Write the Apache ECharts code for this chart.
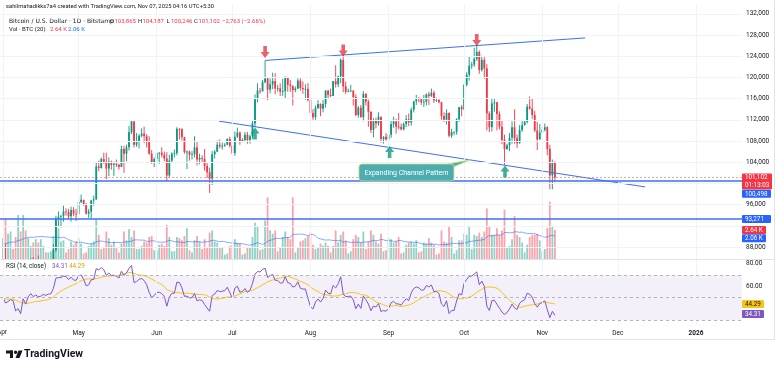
<!DOCTYPE html>
<html><head><meta charset="utf-8">
<script src="https://cdn.jsdelivr.net/npm/echarts@6.0.0/dist/echarts.min.js"></script>
<style>html,body{margin:0;padding:0;background:#fff;overflow:hidden}#c{width:780px;height:370px}</style>
</head><body><div id="c"></div>
<script>
// ---------- DATA (daily BTC/USD, Bitstamp, 1 Apr 2025 .. 6 Nov 2025) ----------
const marchCloses = [86000,94200,86100,87200,90600,89900,86700,86100,80700,78500,82900,83700,81000,83900,84300,82600,84000,82700,86800,84200,84000,83800,86100,87500,87400,86900,87200,84400,82600,82400,82500];
const marchVolumes = [1.8,1.5,0.8,0.9,1.3,1.4,2.2,1.6,1.2,0.6,0.9,1.5,1.3,1.1,1.2,1.7,0.9,0.8,1.6];

const opens = [
82500,85170,82500,83100,83850,83500,78400,79200,76300,82600,79600,83400,85300,83700,84600,83700,84000,84900,84450,85050,85150,87500,93400,93700,93900,94700,94600,93800,95000,94300,
94200,96500,96900,95900,94300,94700,96800,97000,103200,102900,104600,104100,102800,104100,103500,103700,103500,103100,106500,105600,106800,109700,111700,107300,107800,109000,109400,108900,107800,105600,103900,
104600,105700,105800,105400,104700,101500,104300,105600,105700,110300,110200,108700,105900,106000,105400,105500,106800,104500,104800,104600,103300,102100,100900,105500,106000,107300,107000,107100,107300,108400,
107100,105700,108800,109600,108000,108200,109200,108200,108900,111300,115900,117500,117400,119100,119800,117700,118700,119300,117900,117950,117300,117400,119900,118600,118400,117600,117900,119400,118000,117800,117850,
115700,113300,112500,114200,115000,114100,115000,117500,116700,116500,119300,118700,120200,123300,118300,117300,117400,117500,116300,112900,114300,112500,116900,115400,113500,110100,111800,111300,112600,108400,108800,
108300,109200,111200,111700,110700,110650,110200,111200,112100,111500,113900,115500,116100,115900,115300,115400,116800,116500,117100,115700,115750,115300,112700,112000,113300,109000,109700,109750,112100,114400,
114000,118600,120500,122200,122400,123500,124800,121400,123300,121700,113200,110600,115100,115300,113100,110700,108200,106500,107200,108600,110600,108500,107600,110100,111000,111600,114500,114100,112900,110000,108300,
109600,110100,110600,106500,101500,103865];
const highs = [
85500,88500,83900,84700,84200,83700,81200,80800,83500,82700,84200,85900,86100,85800,86400,85500,85500,85100,85600,85300,88500,93900,94700,94000,95800,95300,95200,95600,95500,95200,
97400,97900,96900,96300,95200,96900,97700,104000,104300,104900,105800,105800,104900,104300,104100,104500,103700,107100,107100,107300,110800,111900,111800,109500,109300,110400,110700,109300,108900,106300,104900,
105900,105900,106800,106000,105900,105400,105900,106400,110600,110400,110400,108800,106200,106200,106100,108900,107800,105600,105300,106500,104000,103000,106100,106300,108100,108300,107700,107600,108500,108800,
107600,109800,110500,109800,108500,109700,109700,109200,111900,116800,118900,118000,119500,123200,119900,119800,120900,120800,118600,118900,119700,120200,120000,119500,118500,118300,119800,119800,119200,118700,118900,
116100,114000,114700,115700,115100,115700,117600,117700,117900,119300,122300,120300,123600,124300,119200,117900,118600,117600,116800,114600,114800,117400,117000,115800,113600,112300,112400,113400,112600,108900,109500,
109900,111800,112600,112200,113300,111300,111500,112900,113200,114300,115500,116700,116300,116100,116700,117000,117300,117900,117500,116200,115900,115400,113400,114000,113400,110300,109800,112300,114400,114800,
118800,121000,123900,122900,125600,126200,125100,124100,123800,122500,113600,115900,115900,115400,113600,111900,109200,107500,109500,111700,114000,109200,111000,112000,111900,115000,116400,116100,113700,111600,111200,
110600,111300,110800,107300,104500,104187];
const lows = [
82400,82300,81200,81600,82400,77200,74500,76200,74600,78400,78900,82800,83000,83700,83600,83100,83900,84300,84300,83900,85100,87100,91900,91700,92800,93900,93300,92800,93800,92900,
94200,96300,95800,94100,93500,93400,95800,96900,102300,102800,103700,100800,101400,102600,101400,103100,102600,103100,102000,104200,106200,109300,106800,106900,106600,108700,107600,106800,105400,103700,103100,
103800,103700,104900,104200,100400,101100,103900,104900,105300,108300,108100,105600,102700,104300,104500,104900,103400,103600,103900,102400,101000,98200,99700,104700,105900,106600,106400,106900,107200,106800,
105300,105200,108600,107300,107800,107800,107500,107500,108400,110600,115300,116900,117300,118900,115700,117000,117800,116800,117300,116500,116500,116100,117300,117300,114700,117200,117800,117500,116900,115800,115500,
112700,112000,112000,114100,112700,113400,114300,115900,116300,116500,118100,118200,118900,117200,116900,117200,117300,114700,112700,112400,112400,111700,114700,110700,109500,108700,110400,110900,107700,107500,108100,
107300,108600,110500,109400,110200,110000,110000,110600,110800,110900,113400,114800,115300,114800,114400,114700,114800,116300,115200,115400,115100,112000,111600,111100,108700,108600,109100,109200,111600,112700,
113800,118300,119400,121600,122000,123100,120700,121100,119700,110000,109700,109800,113500,110000,110200,107400,103500,106300,106100,107500,107500,106700,107500,109700,110900,111300,113900,112200,109700,106300,108300,
109400,109800,105300,98900,98900,100246];
const closes = [
85170,82500,83100,83850,83500,78400,79200,76300,82600,79600,83400,85300,83700,84600,83700,84000,84900,84450,85050,85150,87500,93400,93700,93900,94700,94600,93800,95000,94300,94200,
96500,96900,95900,94300,94700,96800,97000,103200,102900,104600,104100,102800,104100,103500,103700,103500,103100,106500,105600,106800,109700,111700,107300,107800,109000,109400,108900,107800,105600,103900,104600,
105700,105800,105400,104700,101500,104300,105600,105700,110300,110200,108700,105900,106000,105400,105500,106800,104500,104800,104600,103300,102100,100900,105500,106000,107300,107000,107100,107300,108400,107100,
105700,108800,109600,108000,108200,109200,108200,108900,111300,115900,117500,117400,119100,119800,117700,118700,119300,117900,117950,117300,117400,119900,118600,118400,117600,117900,119400,118000,117800,117850,115700,
113300,112500,114200,115000,114100,115000,117500,116700,116500,119300,118700,120200,123300,118300,117300,117400,117500,116300,112900,114300,112500,116900,115400,113500,110100,111800,111300,112600,108400,108800,108300,
109200,111200,111700,110700,110650,110200,111200,112100,111500,113900,115500,116100,115900,115300,115400,116800,116500,117100,115700,115750,115300,112700,112000,113300,109000,109700,109750,112100,114400,114000,
118600,120500,122200,122400,123500,124800,121400,123300,121700,113200,110600,115100,115300,113100,110700,108200,106500,107200,108600,110600,108500,107600,110100,111000,111600,114500,114100,112900,110000,108300,109600,
110100,110600,106500,101500,103865,101102];
const volumes = [
1.9,3.7,2.3,2.5,0.9,2.0,4.0,2.5,4.0,2.6,1.9,1.2,1.5,1.8,1.5,1.8,1.2,0.6,0.6,0.7,2.1,3.3,2.8,1.6,1.7,0.6,0.9,1.6,1.3,1.6,
1.9,1.4,0.5,0.6,1.2,1.4,1.6,3.6,2.2,0.9,1.1,2.5,1.9,1.3,1.6,1.1,0.6,1.4,2.5,1.7,2.7,2.0,2.6,0.9,0.9,1.2,1.6,1.5,2.0,2.1,0.8,
0.8,1.3,1.4,1.2,3.1,2.0,0.7,0.7,2.0,1.9,1.7,2.1,2.8,0.8,0.6,1.7,2.1,1.6,0.9,1.8,1.0,2.4,2.6,1.6,1.5,1.1,1.1,0.4,0.5,1.2,
1.3,1.8,1.5,1.4,0.4,0.5,1.0,1.1,2.0,3.3,3.0,0.8,0.9,3.5,5.6,2.6,2.3,2.6,0.7,1.0,2.0,2.5,2.0,1.8,5.6,0.6,1.0,1.6,1.7,1.9,2.1,
2.4,1.3,0.9,1.1,1.4,1.2,1.5,1.2,0.6,1.2,2.6,1.5,2.2,2.5,1.7,0.5,0.7,1.8,2.2,2.0,1.5,2.5,0.9,1.6,2.6,2.2,1.6,1.4,2.3,0.7,0.8,
1.9,1.8,1.5,1.6,2.0,0.5,0.6,1.3,1.5,1.6,1.4,1.7,0.6,0.7,1.5,1.4,1.9,1.5,1.3,0.4,0.5,2.6,1.6,1.5,2.9,2.0,0.5,0.8,1.7,1.7,
2.3,2.2,3.0,0.9,2.2,2.1,2.4,2.0,2.5,4.6,3.0,2.2,2.2,2.8,2.2,2.6,4.5,1.1,1.2,1.8,3.9,2.2,2.0,1.5,0.6,1.3,2.0,2.2,2.2,2.3,1.7,
0.7,0.9,2.8,5.2,3.0,2.64];

// axis ticks (day index 0 = 1 Apr 2025)
const monthTicks = [0,30,61,91,122,153,183,214,244,275];
const monthLabels = ['Apr','May','Jun','Jul','Aug','Sep','Oct','Nov','Dec','2026'];
const priceGridTicks = [88000,92000,96000,100000,104000,108000,112000,116000,120000,124000,128000,132000];
const priceLabelTicks = [88000,96000,104000,108000,112000,116000,120000,124000,128000,132000];
const rsiLabelTicks = [60,80];
const rsiLevels = [70,50,30];

// drawn annotations (in day / price units)
const levelLines = [100498, 93271];
const lastPrice = 101102;
const upperChannel = [[104,123200],[231,127450]];
const lowerChannel = [[85.7,111750],[254.8,99340]];
const topArrows = [[104,124790],[135,125075],[188,127060]];
const bottomArrows = [[100,109420],[153.4,105920],[199.2,102250]];
const callout = {day:160.1, price:102056, tipDay:185.3, tipPrice:104440, text:'Expanding Channel Pattern'};

const headerLine1 = 'sahilmahadikks7a4 created with TradingView.com, Nov 07, 2025 04:16 UTC+5:30';
const symbolText = 'Bitcoin / U.S. Dollar · 1D · Bitstamp';
const ohlcText = [['O','103,865'],['H','104,187'],['L','100,246'],['C','101,102']];
const changeText = '−2,763 (−2.66%)';
const volText = ['Vol · BTC (20)','2.64 K','2.06 K'];
const lastVol = 2.64, lastVolMa = 2.06;
const rsiText = ['RSI (14, close)','34.31','44.29'];
const lastRsi = 34.31, lastRsiMa = 44.29;
const countdown = '01:13:03';

// ---------- checks ----------
const N = closes.length;
[opens,highs,lows,volumes].forEach((a,k)=>{ if(a.length!==N) throw new Error('len mismatch '+k+': '+a.length+' vs '+N); });

// ---------- indicators ----------
function wilderRsi(src, len){
  const out = new Array(src.length).fill(null);
  let ag=0, al=0;
  for(let i=1;i<src.length;i++){
    const ch = src[i]-src[i-1], g = Math.max(ch,0), l = Math.max(-ch,0);
    if(i<=len){ ag+=g/len; al+=l/len; if(i===len) out[i]=100-100/(1+ag/al); }
    else { ag=(ag*(len-1)+g)/len; al=(al*(len-1)+l)/len; out[i]=100-100/(1+ag/al); }
  }
  return out;
}
function sma(src, len){
  return src.map((v,i)=>{ if(i<len-1) return null; let s=0; for(let k=i-len+1;k<=i;k++){ if(src[k]==null) return null; s+=src[k]; } return s/len; });
}
const rsiAll = wilderRsi(marchCloses.concat(closes),14);
const rsiMaAll = sma(rsiAll,14);
const off = marchCloses.length;
const rsi = rsiAll.slice(off), rsiMa = rsiMaAll.slice(off);
const volMa = sma(marchVolumes.concat(volumes),20).slice(marchVolumes.length);

// ---------- layout constants ----------
const X_MIN=-1.19, X_MAX=293.25, P_MIN=85740, P_MAX=133660, V_MAX=23.09, R_MIN=25.85, R_MAX=83.25;
const GREEN='#089981', RED='#f23645', BLUE='#2962ff', LINEBLUE='#3d6ff5', PURPLE='#7e57c2', YELLOW='#f5c518';
const FONT='Roboto, "Noto Sans", sans-serif', DARK='#131722';
const gridLineColor='#f0f3fa';

const chart = echarts.init(document.getElementById('c'));

function xAx(gi, labels){
  return {type:'value', gridIndex:gi, min:X_MIN, max:X_MAX,
    axisLine:{show:false}, axisTick:{show:false}, splitLine:{show:false},
    axisLabel: labels ? {customValues:monthTicks.slice(1), margin:5, fontSize:6.5, color:DARK, fontFamily:FONT,
      formatter:v=>{const i=monthTicks.indexOf(v); const s=monthLabels[i]||''; return /^\d{4}$/.test(s)?'{b|'+s+'}':s;},
      rich:{b:{fontWeight:'bold',fontSize:6.5,color:DARK,fontFamily:FONT}}} : {show:false}};
}

const candleData = closes.map((c,i)=>[i, opens[i], c, lows[i], highs[i]]);
const volData = volumes.map((v,i)=>({value:[i,v], itemStyle:{color: closes[i]>=opens[i] ? 'rgba(8,153,129,0.45)' : 'rgba(242,54,69,0.45)'}}));

const downArrow='path://M3,0L7,0L7,6L10,6L5,12L0,6L3,6Z';
const upArrow='path://M5,0L10,6L7,6L7,12L3,12L3,6L0,6Z';

const option = {
  animation:false,
  backgroundColor:'#ffffff',
  grid:[
    {left:0, top:5, width:742, height:254},
    {left:0, top:5, width:742, height:254},
    {left:0, top:260, width:742, height:65}
  ],
  xAxis:[xAx(0,false), xAx(1,false), xAx(2,true)],
  yAxis:[
    {type:'value', gridIndex:0, position:'right', min:P_MIN, max:P_MAX, axisLine:{show:false}, axisTick:{show:false}, splitLine:{show:false},
     axisLabel:{customValues:priceLabelTicks, margin:4, fontSize:6.5, color:DARK, fontFamily:FONT, formatter:v=>v.toLocaleString('en-US')}},
    {type:'value', gridIndex:1, min:0, max:V_MAX, show:false},
    {type:'value', gridIndex:2, position:'right', min:R_MIN, max:R_MAX, axisLine:{show:false}, axisTick:{show:false}, splitLine:{show:false},
     axisLabel:{customValues:rsiLabelTicks, margin:4, fontSize:6.5, color:DARK, fontFamily:FONT, formatter:v=>v.toFixed(2)}}
  ],
  series:[
    {type:'line', xAxisIndex:0, yAxisIndex:0, data:[], z:0, silent:true,
     markLine:{silent:true, symbol:'none', label:{show:false}, lineStyle:{color:gridLineColor, width:1, type:'solid'},
       data:[...monthTicks.map(v=>({xAxis:v})), ...priceGridTicks.map(v=>({yAxis:v}))]}},
    {type:'line', xAxisIndex:2, yAxisIndex:2, data:[], z:0, silent:true,
     markLine:{silent:true, symbol:'none', label:{show:false}, lineStyle:{color:gridLineColor, width:1, type:'solid'},
       data:monthTicks.map(v=>({xAxis:v}))}},
    {name:'vol', type:'bar', xAxisIndex:1, yAxisIndex:1, data:volData, barWidth:1.8, z:1, silent:true},
    {name:'volma', type:'line', xAxisIndex:1, yAxisIndex:1, data:volMa.map((v,i)=>[i,v]), showSymbol:false, z:2, silent:true,
     lineStyle:{color:BLUE, width:1, opacity:0.55}},
    {name:'price', type:'custom', xAxisIndex:0, yAxisIndex:0, data:candleData, encode:{x:0,y:[1,2,3,4]}, z:3, silent:true, clip:true,
     renderItem:(params, api)=>{
       const x=api.value(0), o=api.value(1), c=api.value(2), l=api.value(3), h=api.value(4);
       const po=api.coord([x,o]), pc=api.coord([x,c]), pl=api.coord([x,l]), ph=api.coord([x,h]);
       const col = c>=o ? GREEN : RED;
       const w=1.8, top=Math.min(po[1],pc[1]), bot=Math.max(po[1],pc[1]);
       return {type:'group', children:[
         {type:'line', shape:{x1:po[0],y1:ph[1],x2:po[0],y2:pl[1]}, style:{stroke:col, lineWidth:0.9}},
         {type:'rect', shape:{x:po[0]-w/2, y:top, width:w, height:Math.max(bot-top,0.8)}, style:{fill:col}}
       ]};
     },
     markLine:{silent:true, symbol:'none', label:{show:false}, data:[
       {yAxis:lastPrice, lineStyle:{color:'rgba(242,54,69,0.45)', width:1, type:[2,2]}},
       ...levelLines.map(v=>({yAxis:v, lineStyle:{color:LINEBLUE, width:1.5, type:'solid'}}))
     ]}},
    {type:'line', xAxisIndex:0, yAxisIndex:0, data:upperChannel, showSymbol:false, z:4, silent:true, lineStyle:{color:LINEBLUE, width:1}},
    {type:'line', xAxisIndex:0, yAxisIndex:0, data:lowerChannel, showSymbol:false, z:4, silent:true, lineStyle:{color:LINEBLUE, width:1}},
    {type:'scatter', xAxisIndex:0, yAxisIndex:0, data:topArrows, symbol:downArrow, symbolSize:[9,12], z:5, silent:true, itemStyle:{color:'#e53945'}},
    {type:'scatter', xAxisIndex:0, yAxisIndex:0, data:bottomArrows, symbol:upArrow, symbolSize:[9,12], z:5, silent:true, itemStyle:{color:'#0b9a80'}},
    {type:'custom', xAxisIndex:0, yAxisIndex:0, z:6, silent:true, clip:false, data:[[callout.day, callout.price]],
     renderItem:(params, api)=>{
       const c = api.coord([api.value(0), api.value(1)]);
       const tip = api.coord([callout.tipDay, callout.tipPrice]);
       const w=95, h=17, x0=c[0]-w/2, y0=c[1]-h/2;
       const fill='#4cadb0', stroke='#d2dc78';
       return {type:'group', children:[
         {type:'polygon', shape:{points:[[x0+78,y0+2],[tip[0],tip[1]],[x0+w-1,y0+3]]}, style:{fill:fill, stroke:stroke, lineWidth:0.8}},
         {type:'rect', shape:{x:x0, y:y0, width:w, height:h, r:3}, style:{fill:fill, stroke:stroke, lineWidth:0.8}},
         {type:'polygon', shape:{points:[[x0+78.6,y0+1],[x0+w-1.5,y0+1],[x0+w-1.5,y0+4]]}, style:{fill:fill}},
         {type:'text', style:{x:c[0], y:c[1]+0.5, text:callout.text, fill:'#ffffff', font:'7px '+FONT, align:'center', verticalAlign:'middle'}}
       ]};
     }},
    {name:'rsi', type:'line', xAxisIndex:2, yAxisIndex:2, data:rsi.map((v,i)=>[i,v]), showSymbol:false, z:3, silent:true,
     lineStyle:{color:PURPLE, width:1},
     markArea:{silent:true, itemStyle:{color:'rgba(126,87,194,0.09)'}, data:[[{yAxis:rsiLevels[0]},{yAxis:rsiLevels[2]}]]},
     markLine:{silent:true, symbol:'none', label:{show:false}, lineStyle:{color:'#b2b5be', width:1, type:[3,3]}, data:rsiLevels.map(v=>({yAxis:v}))}},
    {name:'rsima', type:'line', xAxisIndex:2, yAxisIndex:2, data:rsiMa.map((v,i)=>[i,v]), showSymbol:false, z:2, silent:true,
     lineStyle:{color:YELLOW, width:1}}
  ]
};
chart.setOption(option);

// ---------- overlay texts / tags ----------
const py=v=>chart.convertToPixel({yAxisIndex:0},v);
const vy=v=>chart.convertToPixel({yAxisIndex:1},v);
const ry=v=>chart.convertToPixel({yAxisIndex:2},v);
const px=v=>chart.convertToPixel({xAxisIndex:2},v);
const g=[];
function txt(x,y,t,color,size,extra,fam){ g.push({type:'text', x:x, y:y, z:100, style:Object.assign({text:t, fill:color, font:(size||6)+'px '+(fam||FONT), verticalAlign:'middle', align:'left'}, extra||{})}); }
function tag(yc,fill,t,tc,w){ w=w||29; g.push({type:'rect', z:100, shape:{x:742,y:yc-4,width:w,height:8,r:1}, style:{fill:fill}}); txt(745,yc+0.3,t,tc||'#fff',6.3); }

// frame lines
g.push({type:'line', z:90, shape:{x1:0,y1:259.5,x2:775,y2:259.5}, style:{stroke:'#e0e3eb',lineWidth:1}});
g.push({type:'line', z:90, shape:{x1:0,y1:339.5,x2:775,y2:339.5}, style:{stroke:'#e0e3eb',lineWidth:1}});
g.push({type:'line', z:90, shape:{x1:774.5,y1:0,x2:774.5,y2:340}, style:{stroke:'#e0e3eb',lineWidth:1}});

// first month label (clipped at the left edge like the original)
txt(px(monthTicks[0])-1, 332.5, monthLabels[0], DARK, 6.5, {align:'center'});

// price tags
const yl=py(lastPrice);
g.push({type:'rect', z:100, shape:{x:742,y:yl-4,width:30,height:16,r:1}, style:{fill:RED}});
txt(745,yl+0.3,lastPrice.toLocaleString('en-US'),'#fff',6.3);
txt(745,yl+8.3,countdown,'#fff',6.3);
tag(py(levelLines[0])+13, BLUE, levelLines[0].toLocaleString('en-US'));
tag(py(levelLines[1]), BLUE, levelLines[1].toLocaleString('en-US'));
tag(vy(lastVol), RED, volText[1], '#fff', 24);
tag(vy(lastVolMa)+2, BLUE, volText[2], '#fff', 24);
tag(ry(lastRsiMa), YELLOW, rsiText[2], DARK, 22);
tag(ry(lastRsi)-1.5, PURPLE, rsiText[1], '#fff', 22);

// header
txt(6,6.5,headerLine1,DARK,5.8);
txt(9,21,symbolText,DARK,6,null,'"DejaVu Sans", sans-serif');
const ohlcX=[110,138,166.5,194];
ohlcText.forEach((p,i)=>{ txt(ohlcX[i],21,p[0],DARK,6); txt(ohlcX[i]+4.5,21,p[1],RED,6); });
txt(222,21,changeText,RED,6);
txt(9,29.5,volText[0],DARK,6);
txt(50,29.5,volText[1],RED,6);
txt(68,29.5,volText[2],BLUE,6);
// rsi legend
txt(6,266.5,rsiText[0],DARK,6.3);
txt(52,266.5,rsiText[1],PURPLE,6.3);
txt(69,266.5,rsiText[2],'#d9a700',6.3);

// TradingView logo
g.push({type:'rect', z:100, shape:{x:6,y:350.5,width:7,height:3}, style:{fill:DARK}});
g.push({type:'rect', z:100, shape:{x:10,y:350.5,width:3,height:7.5}, style:{fill:DARK}});
g.push({type:'circle', z:100, shape:{cx:15.6,cy:352.2,r:1.7}, style:{fill:DARK}});
g.push({type:'polygon', z:100, shape:{points:[[18.5,350.5],[22.5,350.5],[19.5,358],[15.5,358]]}, style:{fill:DARK}});
g.push({type:'text', x:24, y:354.5, z:100, style:{text:'TradingView', fill:DARK, font:'bold 10.5px '+FONT, verticalAlign:'middle'}});

chart.setOption({graphic:g});
</script>
</body></html>
